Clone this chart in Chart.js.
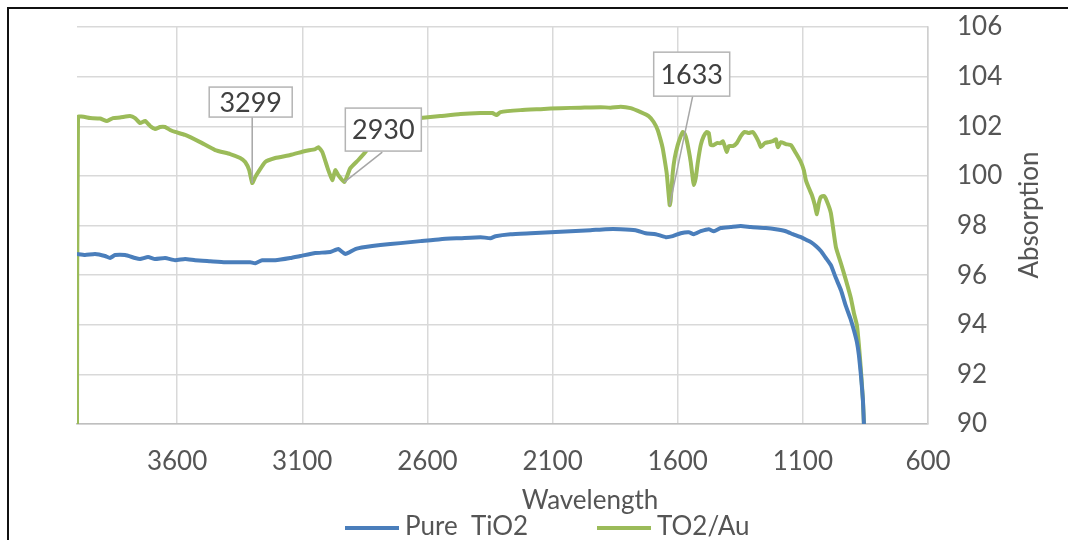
<!DOCTYPE html>
<html>
<head>
<meta charset="utf-8">
<script src="https://cdn.jsdelivr.net/npm/chart.js@4.4.1/dist/chart.umd.min.js"></script>
<style>
  html, body { margin: 0; padding: 0; background: #fff; overflow: hidden; }
  #wrap { position: relative; width: 1068px; height: 540px; }
  canvas { position: absolute; left: 0; top: 0; }
  #frame { position: absolute; left: 7px; top: 7px; width: 1070px; height: 540px;
           border-top: 2px solid #111; border-left: 2px solid #111; pointer-events: none; }
</style>
</head>
<body>
<div id="wrap">
  <canvas id="c" width="1068" height="540"></canvas>
  <div id="frame"></div>
</div>
<script>
// ---- data ----
const seriesNames = ['Pure  TiO2', 'TO2/Au'];
const xTickVals = [3600, 3100, 2600, 2100, 1600, 1100, 600];
const yTickVals = [90, 92, 94, 96, 98, 100, 102, 104, 106];
const xTitle = 'Wavelength';
const yTitle = 'Absorption';

const blueWn = [4000,3968,3928,3888,3868,3848,3808,3768,3748,3716,3688,3648,3608,3568,3528,3468,3408,3348,3308,3288,3260,3208,3148,3108,3048,2988,2956,2928,2888,2848,2788,2708,2628,2548,2468,2388,2348,2328,2268,2188,2108,2028,1948,1888,1828,1768,1728,1688,1648,1620,1588,1556,1536,1508,1476,1456,1428,1388,1348,1308,1248,1208,1168,1140,1108,1084,1068,1048,1028,1008,988,968,948,928,908,896,884,876,868,860,856];
const blueVal = [96.85,96.81,96.85,96.77,96.69,96.81,96.81,96.69,96.65,96.73,96.65,96.69,96.60,96.65,96.60,96.56,96.52,96.52,96.52,96.48,96.60,96.60,96.69,96.77,96.89,96.93,97.05,96.85,97.05,97.13,97.21,97.29,97.37,97.45,97.49,97.53,97.49,97.57,97.65,97.69,97.73,97.77,97.81,97.85,97.85,97.81,97.69,97.65,97.53,97.57,97.69,97.73,97.65,97.77,97.85,97.77,97.90,97.94,97.98,97.94,97.90,97.85,97.77,97.65,97.53,97.41,97.33,97.17,96.97,96.69,96.40,95.88,95.40,94.75,94.19,93.78,93.30,92.77,91.97,90.96,90.0];

const greenWn = [4000,3996,3948,3908,3880,3856,3828,3788,3768,3748,3728,3708,3688,3668,3648,3628,3608,3568,3508,3448,3388,3348,3328,3312,3300,3288,3276,3248,3208,3148,3088,3048,3036,3020,3000,2980,2968,2956,2932,2908,2876,2848,2808,2748,2688,2628,2548,2468,2388,2340,2324,2308,2228,2148,2068,1988,1908,1868,1828,1788,1748,1716,1696,1680,1668,1660,1652,1644,1636,1632,1628,1620,1612,1600,1588,1580,1572,1564,1556,1548,1540,1536,1528,1520,1508,1496,1484,1476,1468,1456,1444,1428,1420,1412,1404,1396,1380,1364,1348,1332,1316,1300,1288,1276,1268,1252,1236,1220,1208,1200,1188,1168,1148,1128,1108,1096,1088,1076,1064,1052,1044,1036,1028,1016,1004,988,968,948,928,908,896,884,876,868,860,856];
const greenVal = [90.0,102.37,102.33,102.31,102.21,102.33,102.35,102.41,102.33,102.13,102.21,102.01,101.89,101.97,101.97,101.85,101.77,101.65,101.36,101.04,100.88,100.72,100.56,100.23,99.71,99.95,100.15,100.56,100.72,100.84,101.0,101.08,101.16,100.96,100.35,99.83,100.23,100.03,99.75,100.31,100.64,100.96,101.52,102.05,102.25,102.33,102.41,102.49,102.53,102.53,102.45,102.57,102.65,102.69,102.73,102.75,102.77,102.75,102.79,102.73,102.57,102.41,102.17,101.85,101.44,101.12,100.64,100.11,99.23,98.82,99.02,100.11,100.72,101.24,101.60,101.77,101.69,101.44,101.04,100.56,99.91,99.63,99.91,100.52,101.24,101.60,101.77,101.73,101.24,101.24,101.32,101.32,101.40,101.20,100.96,101.20,101.20,101.32,101.60,101.77,101.73,101.77,101.60,101.36,101.16,101.32,101.36,101.40,101.48,101.16,101.36,101.28,101.24,100.92,100.56,100.23,99.83,99.51,99.23,98.82,98.46,98.90,99.15,99.19,98.98,98.50,97.13,96.48,95.80,95.07,94.47,93.98,93.18,92.17,90.96,90.0];

const peakText = ['3299', '2930', '1633'];
const peakWn = [3300, 2932, 1632];
const peakVal = [99.71, 99.75, 98.82];

// ---- styles ----
const FONT = 'Lato, "Open Sans", sans-serif';
const TXT = '#555555';
const BLUE = '#4A7EBB';
const GREEN = '#9BBB59';
const GRID = '#d9d9d9';
// label box geometry relative to the anchor point (style only)
const labelBoxes = [
  { dx: -43, dy: -96, w: 83, h: 30, lx0: 0, ly0: -66 },
  { dx: 1,  dy: -74, w: 76, h: 43, lx0: 38, ly0: -30 },
  { dx: -16, dy: -153, w: 76, h: 44, lx0: 23, ly0: -109 }
];

const toPts = (xs, ys) => xs.map((x, i) => ({ x: x, y: ys[i] }));
const noPad = s => { s.paddingTop = 0; s.paddingBottom = 0; s.paddingLeft = 0; s.paddingRight = 0; };

const extras = {
  id: 'extras',
  afterDatasetsDraw(chart) {
    const ctx = chart.ctx;
    const xs = chart.scales.x, ys = chart.scales.y;
    ctx.save();
    peakText.forEach((t, i) => {
      const ax = xs.getPixelForValue(peakWn[i]);
      const ay = ys.getPixelForValue(peakVal[i]);
      const b = labelBoxes[i];
      ctx.strokeStyle = '#a6a6a6';
      ctx.lineWidth = 1.5;
      ctx.beginPath();
      ctx.moveTo(ax + b.lx0, ay + b.ly0);
      ctx.lineTo(ax, ay);
      ctx.stroke();
      const bx = ax + b.dx, by = ay + b.dy;
      ctx.fillStyle = '#fff';
      ctx.fillRect(bx, by, b.w, b.h);
      ctx.strokeStyle = '#b4b4b4';
      ctx.lineWidth = 1.5;
      ctx.strokeRect(bx, by, b.w, b.h);
      ctx.fillStyle = '#404040';
      ctx.font = '27px ' + FONT;
      ctx.textAlign = 'center';
      ctx.textBaseline = 'middle';
      ctx.fillText(t, bx + b.w / 2, by + b.h / 2 + 1);
    });
    ctx.restore();
  },
  afterDraw(chart) {
    const ctx = chart.ctx;
    ctx.save();
    ctx.fillStyle = TXT;
    ctx.font = '26px ' + FONT;
    ctx.textAlign = 'center';
    ctx.textBaseline = 'middle';
    ctx.fillText(xTitle, 590, 501);
    ctx.translate(1030, 215);
    ctx.rotate(-Math.PI / 2);
    ctx.fillText(yTitle, 0, 0);
    ctx.restore();
    ctx.save();
    const items = [{ x: 345 }, { x: 597 }];
    chart.data.datasets.forEach((ds, i) => {
      const x0 = items[i].x;
      ctx.strokeStyle = ds.borderColor;
      ctx.lineWidth = 4;
      ctx.beginPath();
      ctx.moveTo(x0, 528);
      ctx.lineTo(x0 + 54, 528);
      ctx.stroke();
      ctx.fillStyle = TXT;
      ctx.font = '26px ' + FONT;
      ctx.textAlign = 'left';
      ctx.textBaseline = 'middle';
      ctx.fillText(ds.label, x0 + 60, 527);
    });
    ctx.restore();
  }
};

new Chart(document.getElementById('c'), {
  type: 'line',
  data: {
    datasets: [
      { label: seriesNames[0], data: toPts(blueWn, blueVal), borderColor: BLUE, borderWidth: 4, pointRadius: 0, tension: 0.15, fill: false },
      { label: seriesNames[1], data: toPts(greenWn, greenVal), borderColor: GREEN, borderWidth: 4, pointRadius: 0, tension: 0.15, fill: false }
    ]
  },
  options: {
    responsive: false,
    animation: false,
    devicePixelRatio: 1,
    layout: { padding: { left: 77, top: 27, right: 0, bottom: 0 } },
    plugins: { legend: { display: false }, tooltip: { enabled: false }, title: { display: false } },
    scales: {
      x: {
        type: 'linear', position: 'bottom', reverse: true, min: 600, max: 4000,
        afterBuildTicks: s => { s.ticks = xTickVals.map(v => ({ value: v })); },
        afterFit: s => { s.height = 116; noPad(s); },
        grid: { color: GRID, lineWidth: 1.5, drawTicks: false },
        border: { color: '#bfbfbf', width: 1.5 },
        ticks: { color: TXT, font: { family: FONT, size: 26 }, padding: 22, maxRotation: 0, autoSkip: false,
                 callback: v => String(v) }
      },
      y: {
        type: 'linear', position: 'right', min: 90, max: 106,
        afterBuildTicks: s => { s.ticks = yTickVals.map(v => ({ value: v })); },
        afterFit: s => { s.width = 140; noPad(s); },
        grid: { color: GRID, lineWidth: 1.5, drawTicks: false },
        border: { color: '#cfcfcf', width: 1.5 },
        ticks: { color: TXT, font: { family: FONT, size: 26 }, padding: 29, callback: v => String(v) }
      }
    }
  },
  plugins: [extras]
});
</script>
</body>
</html>
